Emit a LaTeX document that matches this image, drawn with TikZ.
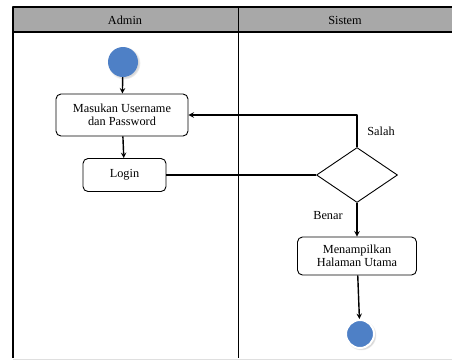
\documentclass[tikz,border=0pt]{standalone}
\usepackage{fontspec}
\setmainfont{Liberation Serif}
\usetikzlibrary{shapes.geometric,shadows}
\definecolor{lanegray}{RGB}{168,168,168}
\definecolor{dotblue}{RGB}{78,128,198}
\tikzset{
	act/.style={draw, rounded corners=5pt, align=center, inner sep=2pt, line width=.9pt},
	dot/.style={circle, fill=dotblue, inner sep=0, minimum size=30pt},
	flow/.style={->, line width=1.4pt}
}
\begin{document}
\begin{tikzpicture}[x=1pt,y=-1pt, font=\fontsize{12.3}{13.5}\selectfont, line join=round, >=stealth]
	\useasboundingbox (0,0) rectangle (452,360);
	% lanes
	\fill[lanegray] (13,7) rectangle (452,32);
	\draw[line width=1.3pt] (452,7)--(13,7)--(13,358);
	\draw[line width=1.3pt] (13,32)--(452,32);
	\draw[line width=1pt] (238,7)--(238,358);
	\draw[gray!25] (13,359)--(452,359);
	\path
	(125,20) node (admin) {Admin}
	(345,20) node (sistem) {Sistem};
	% nodes
	\node[dot, circular drop shadow={shadow xshift=1pt, shadow yshift=-1pt, opacity=.3}] (start) at (123,62) {};
	\node[act, minimum width=132pt, minimum height=42pt] (input) at (122,115) {Masukan Username\\dan Password};
	\node[act, minimum width=83pt, minimum height=33pt] (login) at (124.5,175) {Login};
	\node[draw, diamond, line width=.9pt, inner sep=0, minimum width=81pt, minimum height=55pt] (cek) at (357,175) {};
	\node[act, minimum width=119pt, minimum height=38pt] (home) at (357,256) {Menampilkan\\Halaman Utama};
	\node[dot, minimum size=28pt, draw=white, line width=2pt, circular drop shadow={shadow xshift=1pt, shadow yshift=-1pt, opacity=.35}] (stop) at (360,334) {};
	% connectors
	\draw[flow] (start)--(input);
	\draw[flow] (input)--(login);
	\draw[line width=1.4pt] (login)--(cek);
	\draw[flow] (cek.north)|-(input.east);
	\draw[flow] (cek)--(home);
	\draw[flow] (home)--(stop);
	\path
	(381,131) node (salah) {Salah}
	(328,216) node (benar) {Benar};
\end{tikzpicture}
\end{document}
